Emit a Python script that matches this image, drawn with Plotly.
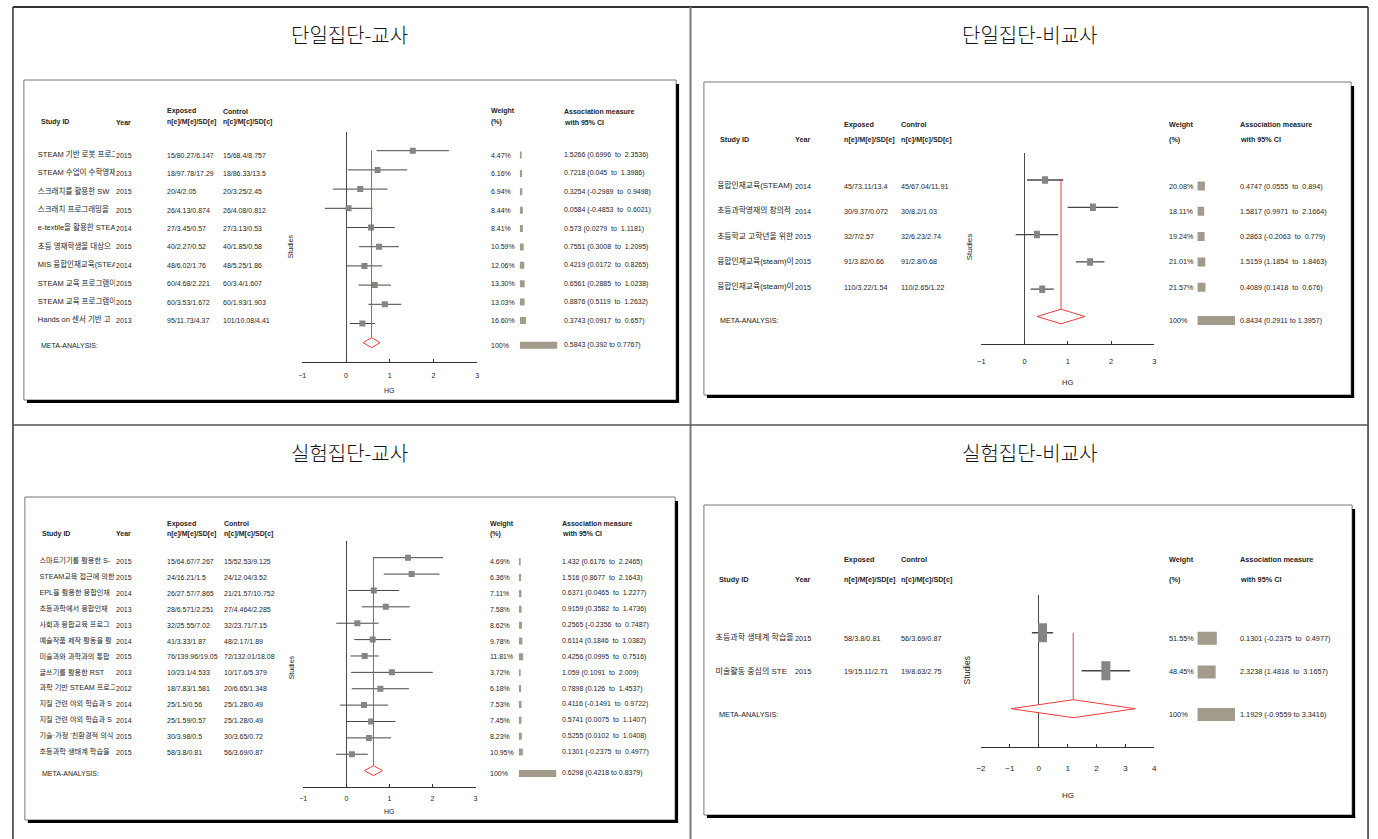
import plotly.graph_objects as go

W, H = 1378, 839

# ---------------- 단일집단-교사 ----------------
t1_study = ["STEAM 기반 로봇 프로그", "STEAM 수업이 수학영재", "스크래치를 활용한 SW",
            "스크래치 프로그래밍을", "e-textile을 활용한 STEA", "초등 영재학생을 대상으",
            "MIS 융합인재교육(STEA", "STEAM 교육 프로그램이", "STEAM 교육 프로그램이",
            "Hands on 센서 기반 고"]
t1_year = [2015, 2013, 2015, 2015, 2014, 2015, 2014, 2015, 2015, 2013]
t1_exposed = ["15/80.27/6.147", "18/97.78/17.29", "20/4/2.05", "26/4.13/0.874", "27/3.45/0.57",
              "40/2.27/0.52", "48/6.02/1.76", "60/4.68/2.221", "60/3.53/1.672", "95/11.73/4.37"]
t1_control = ["15/68.4/8.757", "18/86.33/13.5", "20/3.25/2.45", "26/4.08/0.812", "27/3.13/0.53",
              "40/1.85/0.58", "48/5.25/1.86", "60/3.4/1.607", "60/1.93/1.903", "101/10.08/4.41"]
t1_weight = [4.47, 6.16, 6.94, 8.44, 8.41, 10.59, 12.06, 13.30, 13.03, 16.60]
t1_hg = [1.5266, 0.7218, 0.3254, 0.0584, 0.573, 0.7551, 0.4219, 0.6561, 0.8876, 0.3743]
t1_lo = [0.6996, 0.045, -0.2989, -0.4853, 0.0279, 0.3008, 0.0172, 0.2885, 0.5119, 0.0917]
t1_hi = [2.3536, 1.3986, 0.9498, 0.6021, 1.1181, 1.2095, 0.8265, 1.0238, 1.2632, 0.657]
t1_pooled = [0.5843, 0.392, 0.7767]

# ---------------- 단일집단-비교사 ----------------
t2_study = ["융합인재교육(STEAM)", "초등과학영재의 창의적", "초등학교 고학년을 위한",
            "융합인재교육(steam)이", "융합인재교육(steam)이"]
t2_year = [2014, 2014, 2015, 2015, 2015]
t2_exposed = ["45/73.11/13.4", "30/9.37/0.072", "32/7/2.57", "91/3.82/0.66", "110/3.22/1.54"]
t2_control = ["45/67.04/11.91", "30/8.2/1.03", "32/6.23/2.74", "91/2.8/0.68", "110/2.65/1.22"]
t2_weight = [20.08, 18.11, 19.24, 21.01, 21.57]
t2_hg = [0.4747, 1.5817, 0.2863, 1.5159, 0.4089]
t2_lo = [0.0555, 0.9971, -0.2063, 1.1854, 0.1418]
t2_hi = [0.894, 2.1664, 0.779, 1.8463, 0.676]
t2_pooled = [0.8434, 0.2911, 1.3957]

# ---------------- 실험집단-교사 ----------------
t3_study = ["스마트기기를 활용한 S-", "STEAM교육 접근에 의한", "EPL을 활용한 융합인재",
            "초등과학에서 융합인재", "사회과 융합교육 프로그", "예술작품 제작 활동을 활",
            "미술과와 과학과의 통합", "글쓰기를 활용한 RST", "과학 기반 STEAM 프로그",
            "지질 관련 야외 학습과 S", "지질 관련 야외 학습과 S", "기술·가정 '친환경적 의식",
            "초등과학 생태계 학습을"]
t3_year = [2015, 2015, 2014, 2013, 2013, 2014, 2015, 2013, 2012, 2014, 2014, 2015, 2015]
t3_exposed = ["15/64.67/7.267", "24/16.21/1.5", "26/27.57/7.865", "28/6.571/2.251", "32/25.55/7.02",
              "41/3.33/1.87", "76/139.96/19.05", "10/23.1/4.533", "18/7.83/1.581", "25/1.5/0.56",
              "25/1.59/0.57", "30/3.98/0.5", "58/3.8/0.81"]
t3_control = ["15/52.53/9.125", "24/12.04/3.52", "21/21.57/10.752", "27/4.464/2.285", "32/23.71/7.15",
              "48/2.17/1.89", "72/132.01/18.08", "10/17.6/5.379", "20/6.65/1.348", "25/1.28/0.49",
              "25/1.28/0.49", "30/3.65/0.72", "56/3.69/0.87"]
t3_weight = [4.69, 6.36, 7.11, 7.58, 8.62, 9.78, 11.81, 3.72, 6.18, 7.53, 7.45, 8.23, 10.95]
t3_hg = [1.432, 1.516, 0.6371, 0.9159, 0.2565, 0.6114, 0.4256, 1.059, 0.7898, 0.4116, 0.5741, 0.5255, 0.1301]
t3_lo = [0.6176, 0.8677, 0.0465, 0.3582, -0.2356, 0.1846, 0.0995, 0.1091, 0.126, -0.1491, 0.0075, 0.0102, -0.2375]
t3_hi = [2.2465, 2.1643, 1.2277, 1.4736, 0.7487, 1.0382, 0.7516, 2.009, 1.4537, 0.9722, 1.1407, 1.0408, 0.4977]
t3_pooled = [0.6298, 0.4218, 0.8379]

# ---------------- 실험집단-비교사 ----------------
t4_study = ["초등과학 생태계 학습을", "미술활동 중심의 STE"]
t4_year = [2015, 2015]
t4_exposed = ["58/3.8/0.81", "19/15.11/2.71"]
t4_control = ["56/3.69/0.87", "19/8.63/2.75"]
t4_weight = [51.55, 48.45]
t4_hg = [0.1301, 2.3238]
t4_lo = [-0.2375, 1.4818]
t4_hi = [0.4977, 3.1657]
t4_pooled = [1.1929, -0.9559, 3.3416]

REG = "Liberation Sans, Arial, Noto Sans CJK KR, sans-serif"
TXT = "#1e1e1e"
RED = "#ee3b3b"
BAR = "#a29b8b"
BOX = "#858585"
CI = "#464646"


def px(v):
    return v / W


def py(v):
    return 1 - v / H


panels = [
    dict(title="단일집단-교사", title_xy=(347, 35),
         data=(t1_study, t1_year, t1_exposed, t1_control, t1_weight, t1_hg, t1_lo, t1_hi, t1_pooled),
         box=(19, 80, 675, 400), fs=7, id_fs=7.5, tick_fs=7,
         c_id=35, c_clip=110.5, c_year=110.7, c_exp=161.7, c_ctl=218.5, c_wt=487.7, c_bar=517.7, c_as=561,
         head_y=(111, 122.5), studies=(287, 246), st_fs=7,
         trow=(155, 18.39, 0.35), frow=(150.7, 19.2), fxr=(299, 475), xr=[-1, 3], ticks=[-1, 0, 1, 2, 3],
         standoff=7, hg_y=390, mk=(6, 6), dia=5, bar_h=7, ci_w=1),
    dict(title="단일집단-비교사", title_xy=(1030, 35),
         data=(t2_study, t2_year, t2_exposed, t2_control, t2_weight, t2_hg, t2_lo, t2_hi, t2_pooled),
         box=(703, 82, 1354, 395), fs=7.2, id_fs=7.8, tick_fs=7.5,
         c_id=718.3, c_clip=793.5, c_year=794, c_exp=843, c_ctl=900, c_wt=1170, c_bar=1199.3, c_as=1241.7,
         head_y=(124, 140), studies=(970, 247), st_fs=8,
         trow=(186, 25.3, 0.32), frow=(180, 27.3), fxr=(982, 1156), xr=[-1, 3], ticks=[-1, 0, 1, 2, 3],
         standoff=10, hg_y=382, mk=(6, 7.5), dia=7.3, bar_h=9, ci_w=1.3),
    dict(title="실험집단-교사", title_xy=(347, 452),
         data=(t3_study, t3_year, t3_exposed, t3_control, t3_weight, t3_hg, t3_lo, t3_hi, t3_pooled),
         box=(20, 497, 674, 820), fs=7, id_fs=7.2, tick_fs=7,
         c_id=36.7, c_clip=110.5, c_year=110.7, c_exp=161.7, c_ctl=219, c_wt=487.3, c_bar=516.7, c_as=559.3,
         head_y=(523.5, 533.5), studies=(288, 667), st_fs=7,
         trow=(561.7, 15.86, 0.35), frow=(557.7, 16.38), fxr=(300, 473.3), xr=[-1, 3], ticks=[-1, 0, 1, 2, 3],
         standoff=5, hg_y=811, mk=(6, 6), dia=5, bar_h=7, ci_w=1),
    dict(title="실험집단-비교사", title_xy=(1030, 452),
         data=(t4_study, t4_year, t4_exposed, t4_control, t4_weight, t4_hg, t4_lo, t4_hi, t4_pooled),
         box=(703, 505, 1355, 815), fs=7.3, id_fs=8, tick_fs=8,
         c_id=716.7, c_clip=793, c_year=793.3, c_exp=842.7, c_ctl=900, c_wt=1169.3, c_bar=1199.3, c_as=1241.7,
         head_y=(559.5, 579.5), studies=(968, 670), st_fs=8.5,
         trow=(638.3, 33.7, 0.26), frow=(632.7, 38.0), fxr=(981.7, 1156), xr=[-2, 4], ticks=[-2, -1, 0, 1, 2, 3, 4],
         standoff=14, hg_y=795, mk=(9, 19), dia=9, bar_h=13, ci_w=1.5),
]

fig = go.Figure()
layout = {}
annotations = []
shapes = []

# outer table frame
frame = [(8, 7, 1371, 7, "#333", 2), (8, 7, 8, 839, "#333", 1.5), (1371, 7, 1371, 839, "#333", 1.5),
         (689.5, 7, 689.5, 839, "#7a7a7a", 2), (8, 425, 1371, 425, "#555", 1.5)]
for x0, y0, x1, y1, c, w in frame:
    shapes.append(dict(type="line", xref="paper", yref="paper", x0=px(x0), y0=py(y0), x1=px(x1), y1=py(y1),
                       line=dict(color=c, width=w)))


def ann(text, x, y, size, yref="paper", xanchor="left", color=TXT, angle=0, xref="paper", family=REG,
        weight=None):
    font = dict(family=family, size=size, color=color)
    if weight:
        font["weight"] = weight
    annotations.append(dict(text=text, x=x, y=y, xref=xref, yref=yref, xanchor=xanchor, yanchor="middle",
                            showarrow=False, textangle=angle, font=font, borderpad=0))


ax = 0
for p in panels:
    study, year, exposed, control, weight, hg, lo, hi, pooled = p["data"]
    n = len(study)
    fa = ax + 1          # forest subplot
    ta = ax + 2          # table rows (study ids)
    wa = ax + 3          # weight bars
    ax += 3

    # panel title and inner frame with drop shadow
    ann(p["title"], px(p["title_xy"][0]), py(p["title_xy"][1]), 20, xanchor="center", color="#111",
        family="Noto Sans CJK KR", weight=300)
    bx0, by0, bx1, by1 = p["box"]
    shapes.append(dict(type="rect", xref="paper", yref="paper", x0=px(bx0), y0=py(by0), x1=px(bx1), y1=py(by1),
                       line=dict(color="#777", width=1)))
    shapes.append(dict(type="line", xref="paper", yref="paper", x0=px(bx1 + 1.5), y0=py(by0 + 4),
                       x1=px(bx1 + 1.5), y1=py(by1 + 3), line=dict(color="#000", width=3)))
    shapes.append(dict(type="line", xref="paper", yref="paper", x0=px(bx0 + 3), y0=py(by1 + 1.5),
                       x1=px(bx1 + 3), y1=py(by1 + 1.5), line=dict(color="#000", width=3)))

    # ---- forest plot axes ----
    fy1, fdy = p["frow"]
    top, bot = fy1 - fdy, fy1 + (n + 1) * fdy
    xs = "" if fa == 1 else str(fa)
    layout["xaxis" + xs] = dict(domain=[px(p["fxr"][0]), px(p["fxr"][1])], range=p["xr"], anchor="y" + xs,
                                tickvals=p["ticks"], ticks="inside", ticklen=3, tickcolor="#333",
                                showline=True, linecolor="#333", linewidth=1, showgrid=False,
                                zeroline=True, zerolinecolor="#4a4a4a", zerolinewidth=1,
                                tickfont=dict(family=REG, size=p["tick_fs"], color=TXT),
                                ticklabelstandoff=p["standoff"], fixedrange=True)
    layout["yaxis" + xs] = dict(domain=[py(bot), py(top)], range=[n + 2, 0], anchor="x" + xs, visible=False,
                                fixedrange=True)
    xa, ya = "x" + xs, "y" + xs
    rows = list(range(1, n + 1))

    # confidence intervals
    cx, cy = [], []
    for r, a, b in zip(rows, lo, hi):
        cx += [a, b, None]
        cy += [r, r, None]
    fig.add_trace(go.Scatter(x=cx, y=cy, mode="lines", line=dict(color=CI, width=p["ci_w"]),
                             xaxis=xa, yaxis=ya, hoverinfo="skip", showlegend=False))
    # point estimates (filled boxes)
    hh = p["mk"][1] / 2 / fdy
    mx, my = [], []
    for r, e in zip(rows, hg):
        mx += [e, e, None]
        my += [r - hh, r + hh, None]
    fig.add_trace(go.Scatter(x=mx, y=my, mode="lines", line=dict(color=BOX, width=p["mk"][0]),
                             xaxis=xa, yaxis=ya, hoverinfo="skip", showlegend=False))
    # pooled estimate: reference line and diamond
    m, plo, phi = pooled
    d = p["dia"] / fdy
    fig.add_trace(go.Scatter(x=[m, m], y=[1, n + 1 - d], mode="lines", line=dict(color=RED, width=1),
                             xaxis=xa, yaxis=ya, hoverinfo="skip", showlegend=False))
    fig.add_trace(go.Scatter(x=[plo, m, phi, m, plo], y=[n + 1, n + 1 - d, n + 1, n + 1 + d, n + 1],
                             mode="lines", fill="toself", fillcolor="white", line=dict(color=RED, width=1),
                             xaxis=xa, yaxis=ya, hoverinfo="skip", showlegend=False))
    ann("HG", 0.5, py(p["hg_y"]), p["tick_fs"], xanchor="center", xref=xa + " domain")
    ann("Studies", px(p["studies"][0]), py(p["studies"][1]), p["st_fs"], xanchor="center", angle=-90)

    # ---- table rows ----
    ty1, tdy, gap = p["trow"]
    ttop, tbot = ty1 - tdy, ty1 + (n + 2) * tdy
    ts, ws = str(ta), str(wa)
    layout["yaxis" + ts] = dict(domain=[py(tbot), py(ttop)], range=[n + 3, 0], anchor="x" + ts, visible=False,
                                fixedrange=True)
    layout["xaxis" + ts] = dict(domain=[px(p["c_id"] - 2), px(p["c_clip"])], range=[0, 1], anchor="y" + ts,
                                visible=False, fixedrange=True)
    layout["xaxis" + ws] = dict(domain=[px(p["c_bar"]), px(p["c_bar"] + 38)], range=[0, 100], anchor="y" + ts,
                                visible=False, fixedrange=True)
    meta_r = n + 1 + gap

    fig.add_trace(go.Scatter(x=[0] * n, y=rows, text=study, mode="text", textposition="middle right",
                             cliponaxis=True, textfont=dict(family=REG, size=p["id_fs"], color=TXT),
                             xaxis="x" + ts, yaxis="y" + ts, hoverinfo="skip", showlegend=False))
    fig.add_trace(go.Bar(x=list(weight) + [100], y=rows + [meta_r], orientation="h",
                         width=p["bar_h"] / tdy, marker=dict(color=BAR, line=dict(width=0)),
                         xaxis="x" + ws, yaxis="y" + ts, hoverinfo="skip", showlegend=False))

    s = p["fs"]
    yr = "y" + ts
    for r, yv, ex, ct, w, e, a, b in zip(rows, year, exposed, control, weight, hg, lo, hi):
        ann(str(yv), px(p["c_year"]), r, s, yref=yr)
        ann(ex, px(p["c_exp"]), r, s, yref=yr)
        ann(ct, px(p["c_ctl"]), r, s, yref=yr)
        ann(f"{w:.2f}%", px(p["c_wt"]), r, s, yref=yr)
        ann(f"{e} ({a}\u00a0 to\u00a0 {b})", px(p["c_as"]), r, s, yref=yr)
    ann("META-ANALYSIS:", px(p["c_id"]), meta_r, s, yref=yr)
    ann("100%", px(p["c_wt"]), meta_r, s, yref=yr)
    ann(f"{m} ({plo} to {phi})", px(p["c_as"]), meta_r, s, yref=yr)

    # column headers
    h0, h1 = p["head_y"]
    for txt, cx_, cy_ in [("Study ID", p["c_id"], h1), ("Year", p["c_year"], h1),
                          ("Exposed", p["c_exp"], h0), ("n[e]/M[e]/SD[e]", p["c_exp"], h1),
                          ("Control", p["c_ctl"], h0), ("n[c]/M[c]/SD[c]", p["c_ctl"], h1),
                          ("Weight", p["c_wt"], h0), ("(%)", p["c_wt"], h1),
                          ("Association measure", p["c_as"], h0), ("with 95% CI", p["c_as"], h1)]:
        ann(f"<b>{txt}</b>", px(cx_), py(cy_), s)

fig.update_layout(width=W, height=H, margin=dict(l=0, r=0, t=0, b=0), paper_bgcolor="white",
                  plot_bgcolor="rgba(0,0,0,0)", showlegend=False, annotations=annotations, shapes=shapes,
                  barmode="overlay", **layout)
fig.write_html("out.html")
